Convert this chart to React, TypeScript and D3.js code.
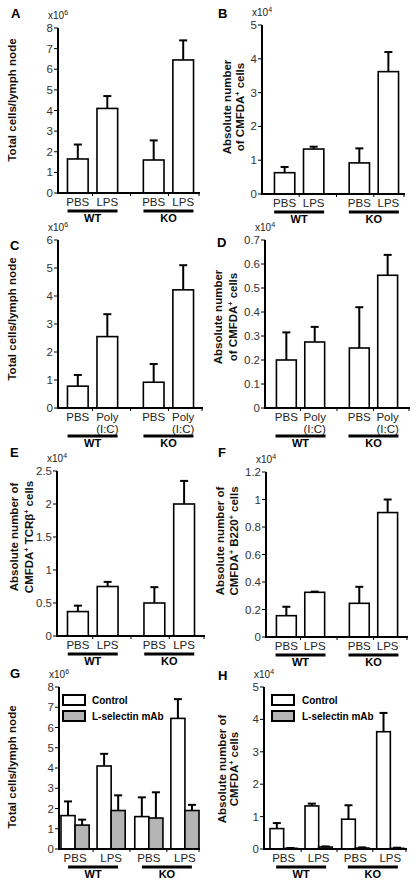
import React from "react";
import * as d3 from "d3";

// ---------- data ----------
const groups = ["WT", "KO"];
const lpsLabels = [["PBS"], ["LPS"]];
const polyLabels = [["PBS"], ["Poly", "(I:C)"]];
const legendLabels = ["Control", "L-selectin mAb"];

// order: WT-PBS, WT-treat, KO-PBS, KO-treat
const totalLps = [1.65, 4.1, 1.6, 6.45];
const totalLpsErr = [2.35, 4.7, 2.55, 7.4];
const cmfdaLps = [0.63, 1.33, 0.92, 3.62];
const cmfdaLpsErr = [0.8, 1.4, 1.35, 4.2];
const totalPoly = [0.78, 2.55, 0.92, 4.22];
const totalPolyErr = [1.18, 3.35, 1.57, 5.1];
const cmfdaPoly = [0.2, 0.275, 0.25, 0.553];
const cmfdaPolyErr = [0.315, 0.338, 0.42, 0.638];
const tcrLps = [0.37, 0.75, 0.5, 2.0];
const tcrLpsErr = [0.46, 0.82, 0.74, 2.35];
const b220Lps = [0.155, 0.325, 0.245, 0.905];
const b220LpsErr = [0.22, 0.33, 0.365, 1.0];
const totalMab = [1.18, 1.9, 1.53, 1.9];
const totalMabErr = [1.45, 2.65, 2.8, 2.18];
const cmfdaMab = [0.02, 0.06, 0.03, 0.02];
const cmfdaMabErr = [0.03, 0.08, 0.05, 0.04];

// ---------- layout ----------
type Series = { values: number[]; errs: number[] };
type Panel = {
  letter: string; lx: number; ly: number;
  ax: number; y0: number; yTop: number; right: number; xr: [number, number];
  max: number; step: number; exp: string;
  title: string[]; titleX: number[]; titleY: number;
  labels: string[][]; series: Series[]; legend?: boolean;
};

const panels: Panel[] = [
  { letter: "A", lx: 11, ly: 18, ax: 58, y0: 193, yTop: 28, right: 200, xr: [66, 195], max: 8, step: 1, exp: "6",
    title: ["Total cells/lymph node"], titleX: [16], titleY: 100, labels: lpsLabels,
    series: [{ values: totalLps, errs: totalLpsErr }] },
  { letter: "B", lx: 218, ly: 18, ax: 262, y0: 194, yTop: 25, right: 405, xr: [273, 400], max: 5, step: 1, exp: "4",
    title: ["Absolute number", "of CMFDA^+ cells"], titleX: [231, 244], titleY: 107, labels: lpsLabels,
    series: [{ values: cmfdaLps, errs: cmfdaLpsErr }] },
  { letter: "C", lx: 10, ly: 250, ax: 58, y0: 408, yTop: 240, right: 203, xr: [66, 195], max: 6, step: 1, exp: "6",
    title: ["Total cells/lymph node"], titleX: [16], titleY: 319, labels: polyLabels,
    series: [{ values: totalPoly, errs: totalPolyErr }] },
  { letter: "D", lx: 217, ly: 247, ax: 265, y0: 408, yTop: 240, right: 410, xr: [275, 399], max: 0.7, step: 0.1, exp: "4",
    title: ["Absolute number", "of CMFDA^+ cells"], titleX: [222, 237], titleY: 317, labels: polyLabels,
    series: [{ values: cmfdaPoly, errs: cmfdaPolyErr }] },
  { letter: "E", lx: 10, ly: 457, ax: 57, y0: 636, yTop: 471, right: 205, xr: [66, 196], max: 2.5, step: 0.5, exp: "4",
    title: ["Absolute number of", "CMFDA^+ TCRβ^+ cells"], titleX: [18, 33], titleY: 537, labels: lpsLabels,
    series: [{ values: tcrLps, errs: tcrLpsErr }] },
  { letter: "F", lx: 218, ly: 457, ax: 266, y0: 637, yTop: 472, right: 408, xr: [275, 399], max: 1.2, step: 0.2, exp: "4",
    title: ["Absolute number of", "CMFDA^+ B220^+ cells"], titleX: [224, 238], titleY: 541, labels: lpsLabels,
    series: [{ values: b220Lps, errs: b220LpsErr }] },
  { letter: "G", lx: 10, ly: 678, ax: 59, y0: 849, yTop: 687, right: 200, xr: [61, 199], max: 8, step: 1, exp: "6",
    title: ["Total cells/lymph node"], titleX: [16], titleY: 767, labels: lpsLabels, legend: true,
    series: [{ values: totalLps, errs: totalLpsErr }, { values: totalMab, errs: totalMabErr }] },
  { letter: "H", lx: 218, ly: 680, ax: 264, y0: 849, yTop: 687, right: 407, xr: [270, 404], max: 5, step: 1, exp: "4",
    title: ["Absolute number of", "CMFDA^+ cells"], titleX: [226, 238], titleY: 769, labels: lpsLabels, legend: true,
    series: [{ values: cmfdaLps, errs: cmfdaLpsErr }, { values: cmfdaMab, errs: cmfdaMabErr }] },
];

const FONT = "'Liberation Sans', Arial, Helvetica, sans-serif";
const fills = ["#ffffff", "#b4b4b4"];

function richText(s: string) {
  const parts = s.split(/(\^.)/);
  const out: React.ReactNode[] = [];
  let shifted = false;
  parts.forEach((p, i) => {
    if (!p) return;
    if (p.startsWith("^")) {
      out.push(<tspan key={i} dy={-4} fontSize={7}>{p.slice(1)}</tspan>);
      shifted = true;
    } else {
      out.push(<tspan key={i} dy={shifted ? 4 : 0}>{p}</tspan>);
      shifted = false;
    }
  });
  return out;
}

function PanelView({ p }: { p: Panel }) {
  const y = d3.scaleLinear().domain([0, p.max]).range([p.y0, p.yTop]);
  const ticks = d3.range(0, p.max + p.step / 2, p.step);
  const two = p.series.length > 1;
  const x0 = d3.scaleBand<string>().domain(groups).range(p.xr).paddingInner(two ? 0.13 : 0.3);
  const tNames = p.labels.map((l) => l.join(" "));
  const x1 = d3.scaleBand<string>().domain(tNames).range([0, x0.bandwidth()])
    .paddingInner(two ? 0.22 : 0.3).paddingOuter(two ? 0 : 0.05);
  const sNames = p.series.map((_, i) => "s" + i);
  const x2 = d3.scaleBand<string>().domain(sNames).range([0, x1.bandwidth()]);
  const fmt = (v: number) => String(+v.toFixed(2));

  const centers: number[] = [];
  groups.forEach((g) => tNames.forEach((t) => centers.push(x0(g)! + x1(t)! + x1.bandwidth() / 2)));
  const midTicks = centers.slice(1).map((c, i) => (c + centers[i]) / 2);

  const twoLine = p.labels.some((l) => l.length > 1);
  const ulY = p.y0 + (twoLine ? 28 : 18);

  return (
    <g fontFamily={FONT}>
      <text x={p.lx} y={p.ly} fontSize={13} fontWeight="bold">{p.letter}</text>
      {p.title.map((t, i) => (
        <text key={i} transform={`translate(${p.titleX[i]},${p.titleY}) rotate(-90)`} textAnchor="middle"
          dy="0.35em" fontSize={11.5} fontWeight="bold" fill="#111">{richText(t)}</text>
      ))}
      <text x={p.ax - 10} y={p.yTop - 9} fontSize={10} fill="#222">x10<tspan dy={-4} fontSize={7}>{p.exp}</tspan></text>
      {p.series.map((s, si) =>
        s.values.map((v, i) => {
          const g = groups[Math.floor(i / 2)];
          const t = tNames[i % 2];
          const bx = x0(g)! + x1(t)! + (two ? x2(sNames[si])! : 0);
          const bw = two ? x2.bandwidth() : x1.bandwidth();
          const cx = bx + bw / 2;
          const ey = y(s.errs[i]);
          return (
            <g key={si + "-" + i}>
              <line x1={cx} x2={cx} y1={y(v)} y2={ey} stroke="#000" strokeWidth={2} />
              <line x1={cx - 4} x2={cx + 4} y1={ey} y2={ey} stroke="#000" strokeWidth={2} />
              <rect x={bx} y={y(v)} width={bw} height={p.y0 - y(v)} fill={fills[si]} stroke="#000" strokeWidth={1.6} />
            </g>
          );
        })
      )}
      <line x1={p.ax} x2={p.ax} y1={p.y0 + 1} y2={p.yTop} stroke="#000" strokeWidth={2} />
      {ticks.map((t) => (
        <g key={t}>
          <line x1={p.ax - 4} x2={p.ax} y1={y(t)} y2={y(t)} stroke="#000" strokeWidth={1} />
          <text x={p.ax - 5} y={y(t)} dy="0.35em" textAnchor="end" fontSize={11.5} fill="#333">{fmt(t)}</text>
        </g>
      ))}
      <line x1={p.ax - 1} x2={p.right} y1={p.y0} y2={p.y0} stroke="#000" strokeWidth={2} />
      {midTicks.concat([p.right - 1]).map((m, i) => (
        <line key={i} x1={m} x2={m} y1={p.y0} y2={p.y0 + 3} stroke="#000" strokeWidth={1} />
      ))}
      {centers.map((c, i) =>
        p.labels[i % 2].map((line, li) => (
          <text key={i + "-" + li} x={c} y={p.y0 + 13 + li * 12} textAnchor="middle" fontSize={11.5} fill="#222">{line}</text>
        ))
      )}
      {groups.map((g) => {
        const gc = x0(g)! + x0.bandwidth() / 2;
        return (
          <g key={g}>
            <line x1={gc - 25} x2={gc + 25} y1={ulY} y2={ulY} stroke="#000" strokeWidth={3} />
            <text x={gc} y={ulY + 11} textAnchor="middle" fontSize={11} fontWeight="bold">{g}</text>
          </g>
        );
      })}
      {p.legend &&
        legendLabels.map((l, i) => (
          <g key={l}>
            <rect x={p.ax + (p.ax > 200 ? 8 : 4)} y={p.yTop + 8 + i * 16} width={22} height={10}
              fill={fills[i]} stroke="#000" strokeWidth={2} />
            <text x={p.ax + (p.ax > 200 ? 38 : 33)} y={p.yTop + 13 + i * 16} dy="0.35em" fontSize={10}
              fontWeight="bold">{l}</text>
          </g>
        ))}
    </g>
  );
}

export default function App() {
  return (
    <svg width={417} height={886} style={{ position: "absolute", left: 0, top: 0, background: "#fff" }}>
      <rect width={417} height={886} fill="#fff" />
      {panels.map((p) => <PanelView key={p.letter} p={p} />)}
    </svg>
  );
}
